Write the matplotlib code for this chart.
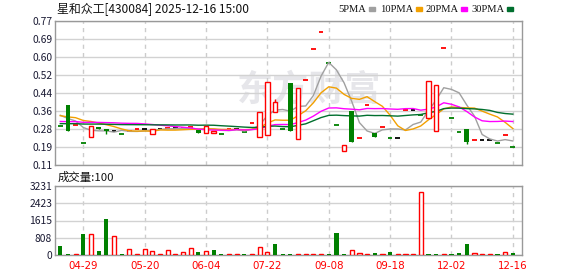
import matplotlib
matplotlib.use("Agg")
import matplotlib.pyplot as plt
import numpy as np
import pandas as pd

plt.rcParams['font.family'] = ['Noto Sans CJK SC', 'DejaVu Sans']

# daily candles
opens = [0.290, 0.386, 0.293, 0.211, 0.238, 0.285, 0.274, 0.264, 0.252, 0.264,
         0.275, 0.275, 0.253, 0.275, 0.278, 0.278, 0.280, 0.282, 0.270, 0.258,
         0.255, 0.252, 0.275, 0.275, 0.262, 0.303, 0.238, 0.248, 0.355, 0.276,
         0.487, 0.229, 0.500, 0.640, 0.720, 0.578, 0.293, 0.174, 0.356, 0.234,
         0.386, 0.255, 0.284, 0.234, 0.234, 0.363, 0.363, 0.340, 0.325, 0.266,
         0.646, 0.325, 0.261, 0.276, 0.224, 0.224, 0.224, 0.212, 0.248, 0.193]
closes = [0.290, 0.265, 0.293, 0.211, 0.287, 0.277, 0.264, 0.264, 0.252, 0.264,
          0.275, 0.275, 0.275, 0.275, 0.278, 0.278, 0.280, 0.282, 0.255, 0.290,
          0.266, 0.252, 0.275, 0.275, 0.262, 0.303, 0.353, 0.490, 0.400, 0.276,
          0.264, 0.463, 0.500, 0.640, 0.720, 0.578, 0.293, 0.203, 0.214, 0.234,
          0.386, 0.237, 0.284, 0.234, 0.234, 0.363, 0.363, 0.340, 0.495, 0.477,
          0.646, 0.325, 0.261, 0.215, 0.224, 0.224, 0.224, 0.212, 0.248, 0.193]
highs = [max(o, c) for o, c in zip(opens, closes)]
lows = [min(o, c) for o, c in zip(opens, closes)]
highs[28] = 0.413
lows[6] = 0.254
lows[53] = 0.204

# closes before the window, estimated from where the MA lines start
hist_closes = [0.28, 0.28, 0.27, 0.29, 0.28, 0.28, 0.29, 0.28, 0.27, 0.28,
               0.28, 0.29, 0.28, 0.28, 0.29, 0.28, 0.28, 0.29, 0.28, 0.28,
               0.32, 0.33, 0.34, 0.33, 0.35, 0.34, 0.35, 0.36, 0.35]

volumes = [420, 45, 45, 976, 976, 186, 1674, 868, 45, 263,
           45, 263, 170, 45, 217, 45, 140, 310, 140, 170,
           232, 45, 45, 45, 45, 45, 356, 140, 511, 45,
           45, 45, 45, 45, 45, 45, 1040, 45, 217, 110,
           45, 110, 45, 140, 45, 45, 45, 2960, 45, 45,
           45, 45, 110, 527, 110, 45, 45, 45, 140, 110]
vol_up = [0, 0, 1, 0, 1, 0, 0, 1, 0, 1,
          1, 1, 1, 1, 1, 1, 1, 1, 0, 1,
          0, 0, 1, 1, 0, 1, 1, 1, 0, 0,
          0, 1, 1, 1, 1, 0, 0, 0, 1, 1,
          1, 0, 1, 0, 1, 1, 1, 1, 0, 0,
          1, 0, 0, 0, 1, 1, 1, 0, 1, 0]

date_pos = [3, 11, 19, 27, 35, 43, 51, 59]
date_labels = ["04-29", "05-20", "06-04", "07-22", "09-08", "09-18", "12-02", "12-16"]
price_ticks = [0.11, 0.1925, 0.275, 0.3575, 0.44, 0.5225, 0.605, 0.6875, 0.77]
price_labels = ["0.11", "0.19", "0.28", "0.36", "0.44", "0.52", "0.60", "0.69", "0.77"]
vol_ticks = [0, 807.75, 1615.5, 2423.25, 3231]
vol_labels = ["0", "808", "1615", "2423", "3231"]

ma_periods = [5, 10, 20, 30]
ma_names = ["5PMA", "10PMA", "20PMA", "30PMA"]
ma_colors = ["#a0a0a0", "#f2a000", "#ff00ff", "#006f2e"]

RED = "#ff0000"
GREEN = "#008000"

n = len(closes)
x = np.arange(n)
all_closes = pd.Series(hist_closes + closes)

fig = plt.figure(figsize=(5.78, 2.76), dpi=100)
ax = fig.add_axes([55 / 578, 1 - 165 / 276, 467 / 578, 144 / 276])
axv = fig.add_axes([55 / 578, 1 - 255 / 276, 467 / 578, 69 / 276])

for a in (ax, axv):
    for s in a.spines.values():
        s.set_color("#999999")
        s.set_linewidth(1)
    a.set_xlim(-0.69, 60.2)
    a.set_xticks(date_pos)
    a.grid(axis="y", color="#d2d2d2", lw=1, ls="-")
    a.grid(axis="x", color="#cccccc", lw=1, ls=(0, (3, 3)))
    a.set_axisbelow(True)
    a.tick_params(length=0, labelsize=7.4, labelcolor="#1a1a33", pad=2)

# watermark
ax.text(0.545, 0.52, "东方财富", transform=ax.transAxes, fontsize=26, fontweight="bold",
        color="#e6e6ea", ha="center", va="center", zorder=0)

# moving averages
for p, col in zip(ma_periods, ma_colors):
    ma = all_closes.rolling(p).mean().iloc[len(hist_closes):].values
    ax.plot(x, ma, color=col, lw=1, zorder=2)

# candles
w = 0.62
prev = hist_closes[-1]
for i in range(n):
    o, c, h, l = opens[i], closes[i], highs[i], lows[i]
    if c > o:
        ax.vlines(i, l, h, color=RED, lw=1, zorder=3)
        ax.bar(i, c - o, bottom=o, width=w, facecolor="white", edgecolor=RED, lw=1, zorder=4)
    elif c < o:
        ax.vlines(i, l, h, color=GREEN, lw=1, zorder=3)
        ax.bar(i, o - c, bottom=c, width=w, color=GREEN, lw=0, zorder=4)
    else:
        col = RED if c > prev else (GREEN if c < prev else "black")
        ax.hlines(c, i - w / 2, i + w / 2, color=col, lw=1.3, zorder=1.5)
    prev = c

ax.set_ylim(0.11, 0.77)
ax.set_yticks(price_ticks)
ax.set_yticklabels(price_labels)
ax.set_xticklabels([])

# volume
for i in range(n):
    if vol_up[i]:
        axv.bar(i, volumes[i], width=0.55, facecolor="white", edgecolor=RED, lw=1, zorder=3)
    else:
        axv.bar(i, volumes[i], width=0.55, color=GREEN, lw=0, zorder=3)
axv.set_ylim(0, 3231)
axv.set_yticks(vol_ticks)
axv.set_yticklabels(vol_labels)
axv.set_xticklabels(date_labels, color=RED, fontsize=7.4, family="DejaVu Sans")
axv.tick_params(axis="x", pad=4)

# header texts
fig.text(57 / 578, 1 - 9 / 276, "星和众工[430084] 2025-12-16 15:00", fontsize=8.6,
         color="#111111", ha="left", va="center")
fig.text(58 / 578, 1 - 177 / 276, "成交量:100", fontsize=8.2, color="#111111",
         ha="left", va="center")

lx = [338, 380, 425, 471]
for name, col, px in zip(ma_names, ma_colors, lx):
    t = fig.text(px / 578, 1 - 9 / 276, name, fontsize=7.6, family="Liberation Serif",
                 color="#111111", ha="left", va="center")
    fig.canvas.draw()
    bb = t.get_window_extent()
    fig.patches.append(plt.Rectangle(((bb.x1 + 3) / 578, 1 - 11 / 276), 6 / 578, 4 / 276,
                                     transform=fig.transFigure, color=col, figure=fig))

fig.savefig("out.png", dpi=100)
